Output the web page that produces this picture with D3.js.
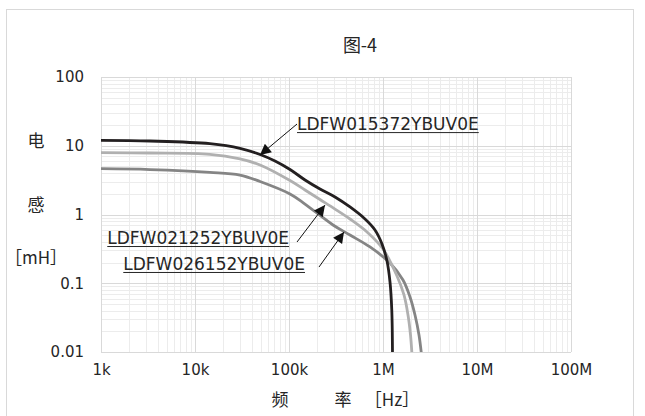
<!DOCTYPE html>
<html>
<head>
<meta charset="utf-8">
<script src="https://cdn.jsdelivr.net/npm/d3@7"></script>
<style>
  body { margin: 0; background: #fff; }
  text { font-family: "DejaVu Sans", sans-serif; fill: #262626; }
  .cjk { font-family: "Noto Sans CJK SC", sans-serif; }
</style>
</head>
<body>
<svg id="chart" width="645" height="416"></svg>
<script>
// tick values / labels
const xTicks = [1e3, 1e4, 1e5, 1e6, 1e7, 1e8];
const xTickLabels = ['1k', '10k', '100k', '1M', '10M', '100M'];
const yTicks = [0.01, 0.1, 1, 10, 100];
const yTickLabels = ['0.01', '0.1', '1', '10', '100'];

// LDFW015372YBUV0E (black)
const blackFreq = [1e3, 3.32e3, 14.4e3, 30.1e3, 49.2e3, 71e3, 102.5e3, 148e3, 213.7e3, 308.7e3, 445.6e3, 643.5e3, 822e3, 975.9e3, 1.103e6, 1.187e6, 1.240e6, 1.262e6];
const blackL    = [12.0, 11.72, 10.71, 9.18, 7.46, 6.00, 4.51, 3.18, 2.35, 1.797, 1.286, 0.860, 0.595, 0.372, 0.2107, 0.1043, 0.0408, 0.00905];

// LDFW021252YBUV0E (light gray)
const lightFreq = [1e3, 3.32e3, 14.4e3, 30.1e3, 49.2e3, 102.5e3, 148e3, 213.7e3, 308.7e3, 445.6e3, 675.7e3, 1.0e6, 1.409e6, 1.672e6, 1.845e6, 1.962e6, 2.035e6];
const lightL    = [7.92, 7.84, 7.51, 6.42, 5.25, 3.12, 2.27, 1.65, 1.20, 0.860, 0.557, 0.315, 0.1275, 0.0675, 0.0345, 0.01767, 0.00905];

// LDFW026152YBUV0E (mid gray)
const midFreq = [1e3, 3.32e3, 14.4e3, 30.1e3, 49.2e3, 102.5e3, 148e3, 293.9e3, 445.6e3, 727.2e3, 1.187e6, 1.632e6, 1.938e6, 2.19e6, 2.415e6, 2.57e6];
const midL    = [4.64, 4.51, 4.11, 3.75, 3.02, 1.99, 1.42, 0.704, 0.503, 0.337, 0.197, 0.1115, 0.0631, 0.0345, 0.01767, 0.00905];

const series = [
    {name: 'LDFW026152YBUV0E', freq: midFreq, val: midL, color: '#858585'},
    {name: 'LDFW021252YBUV0E', freq: lightFreq, val: lightL, color: '#b0b0b0'},
    {name: 'LDFW015372YBUV0E', freq: blackFreq, val: blackL, color: '#231f20'}
];

// annotation anchors in data units (tip on curve, tail near label)
const notes = [
    {label: 'LDFW015372YBUV0E', tip: [49.1e3, 7.33], tail: [121.7e3, 20.7], text: [121.7e3, 16.9], anchor: 'start'},
    {label: 'LDFW021252YBUV0E', tip: [241.5e3, 1.37], tail: [121.7e3, 0.398], text: [100e3, 0.372], anchor: 'end'},
    {label: 'LDFW026152YBUV0E', tip: [384.7e3, 0.557], tail: [208.5e3, 0.172], text: [148e3, 0.156], anchor: 'end'}
];

const svg = d3.select('#chart');
const x = d3.scaleLog().domain([1e3, 1e8]).range([101, 571]);
const y = d3.scaleLog().domain([0.01, 100]).range([352, 77]);

// outer chart frame
svg.append('rect')
    .attr('x', 6.5).attr('y', 9.5).attr('width', 627).attr('height', 420)
    .attr('fill', '#fff').attr('stroke', '#d9d9d9');

// minor gridlines
const minorX = [], minorY = [];
for (let d = 1e3; d < 1e8; d *= 10) for (let k = 2; k < 10; k++) minorX.push(d * k);
for (let d = 0.01; d < 100; d *= 10) for (let k = 2; k < 10; k++) minorY.push(d * k);

const grid = svg.append('g');
grid.selectAll('.mx').data(minorX).join('line')
    .attr('x1', d => Math.round(x(d)) + 0.5).attr('x2', d => Math.round(x(d)) + 0.5)
    .attr('y1', y(0.01)).attr('y2', y(100))
    .attr('stroke', '#ececec');
grid.selectAll('.my').data(minorY).join('line')
    .attr('y1', d => Math.round(y(d)) + 0.5).attr('y2', d => Math.round(y(d)) + 0.5)
    .attr('x1', x(1e3)).attr('x2', x(1e8))
    .attr('stroke', '#ececec');
grid.selectAll('.Mx').data(xTicks).join('line')
    .attr('x1', d => Math.round(x(d)) + 0.5).attr('x2', d => Math.round(x(d)) + 0.5)
    .attr('y1', y(0.01)).attr('y2', y(100))
    .attr('stroke', '#d9d9d9');
grid.selectAll('.My').data(yTicks).join('line')
    .attr('y1', d => Math.round(y(d)) + 0.5).attr('y2', d => Math.round(y(d)) + 0.5)
    .attr('x1', x(1e3)).attr('x2', x(1e8))
    .attr('stroke', '#d9d9d9');

// tick labels via axes (no lines)
const xAxis = svg.append('g').attr('transform', `translate(0,${y(0.01)})`)
    .call(d3.axisBottom(x).tickValues(xTicks).tickFormat((d, i) => xTickLabels[i]).tickSize(0).tickPadding(12));
const yAxis = svg.append('g').attr('transform', `translate(${x(1e3)},0)`)
    .call(d3.axisLeft(y).tickValues(yTicks).tickFormat((d, i) => yTickLabels[i]).tickSize(0).tickPadding(17));
[xAxis, yAxis].forEach(a => {
    a.select('.domain').remove();
    a.selectAll('text').style('font-size', '15px').style('font-family', '"DejaVu Sans", sans-serif').attr('fill', '#262626');
});

// curves
svg.append('clipPath').attr('id', 'plot')
    .append('rect').attr('x', x(1e3)).attr('y', y(100))
    .attr('width', x(1e8) - x(1e3)).attr('height', y(0.01) - y(100));

const line = d3.line()
    .x(d => x(d[0])).y(d => y(d[1]))
    .curve(d3.curveCatmullRom.alpha(0.5));

svg.append('g').attr('clip-path', 'url(#plot)')
    .selectAll('path').data(series).join('path')
    .attr('d', s => line(s.freq.map((f, i) => [f, s.val[i]])))
    .attr('fill', 'none')
    .attr('stroke', s => s.color)
    .attr('stroke-width', 2.8);

// arrows + labels
svg.append('defs').append('marker')
    .attr('id', 'head').attr('viewBox', '0 0 10 10')
    .attr('refX', 10).attr('refY', 5)
    .attr('markerWidth', 14).attr('markerHeight', 11)
    .attr('markerUnits', 'userSpaceOnUse')
    .attr('orient', 'auto')
    .append('path').attr('d', 'M0,0L10,5L0,10Z').attr('fill', '#111');

const ann = svg.append('g');
notes.forEach(n => {
    ann.append('line')
        .attr('x1', x(n.tail[0])).attr('y1', y(n.tail[1]))
        .attr('x2', x(n.tip[0])).attr('y2', y(n.tip[1]))
        .attr('stroke', '#111').attr('stroke-width', 1)
        .attr('marker-end', 'url(#head)');
    const t = ann.append('text')
        .attr('x', x(n.text[0])).attr('y', y(n.text[1]))
        .attr('text-anchor', n.anchor)
        .style('font-size', '17px')
        .text(n.label);
    const w = t.node().getComputedTextLength();
    const x0 = n.anchor === 'start' ? x(n.text[0]) : x(n.text[0]) - w;
    ann.append('line')
        .attr('x1', x0).attr('x2', x0 + w)
        .attr('y1', y(n.text[1]) + 2.5).attr('y2', y(n.text[1]) + 2.5)
        .attr('stroke', '#262626').attr('stroke-width', 1);
});

// titles
svg.append('text').attr('class', 'cjk')
    .attr('x', 360).attr('y', 52).attr('text-anchor', 'middle')
    .style('font-size', '18px').text('图-4');

const yTitle = [['电', 141], ['感', 205], ['［mH］', 258]];
yTitle.forEach(([s, yy]) => {
    svg.append('text').attr('class', 'cjk')
        .attr('x', 36).attr('y', yy).attr('text-anchor', 'middle')
        .style('font-size', '17px')
        .attr('dy', '0.35em').text(s);
});

const xTitle = [['频', 280], ['率', 343], ['［Hz］', 392]];
xTitle.forEach(([s, xx]) => {
    svg.append('text').attr('class', 'cjk')
        .attr('x', xx).attr('y', 400).attr('text-anchor', 'middle')
        .style('font-size', '17px')
        .attr('dy', '0.35em').text(s);
});
</script>
</body>
</html>
